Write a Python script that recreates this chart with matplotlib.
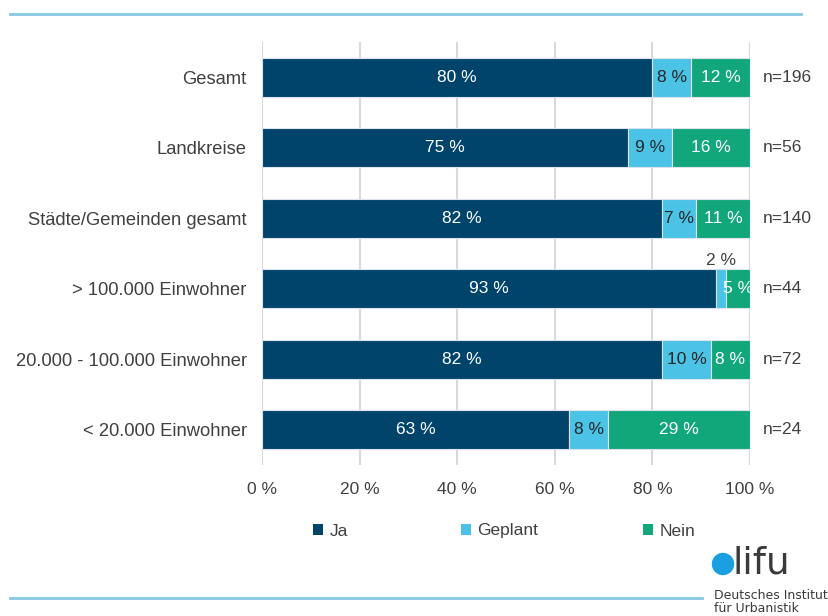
import matplotlib
matplotlib.use("Agg")
import matplotlib.pyplot as plt
from matplotlib.patches import Patch, Circle
from matplotlib.lines import Line2D

plt.rcParams['font.family'] = ['Liberation Sans', 'DejaVu Sans']

# Survey data
categories = ["Gesamt", "Landkreise", "Städte/Gemeinden gesamt",
              "> 100.000 Einwohner", "20.000 - 100.000 Einwohner",
              "< 20.000 Einwohner"]
ja = [80, 75, 82, 93, 82, 63]
geplant = [8, 9, 7, 2, 10, 8]
nein = [12, 16, 11, 5, 8, 29]
n_values = [196, 56, 140, 44, 72, 24]
series_names = ["Ja", "Geplant", "Nein"]
xticks = [0, 20, 40, 60, 80, 100]

colors = ["#00446c", "#4bc3e6", "#12a77a"]
label_colors = ["white", "#262626", "white"]
text_color = "#404040"

W, H = 829, 616
fig = plt.figure(figsize=(W / 100, H / 100), dpi=100)


def fx(px):
    return px / W


def fy(py):
    return 1 - py / H


ax = fig.add_axes([fx(262), fy(465), fx(750) - fx(262), fy(42) - fy(465)])

y = list(range(len(categories)))
left = [0] * len(categories)
bar_h = 0.555
for si, (name, vals) in enumerate(zip(series_names, [ja, geplant, nein])):
    bars = ax.barh(y, vals, left=left, height=bar_h, color=colors[si],
                   edgecolor="#dde3ea", linewidth=0.8, label=name, zorder=3)
    for i, (b, v) in enumerate(zip(bars, vals)):
        cx = left[i] + v / 2
        if v < 4:
            ax.annotate(f"{v} %", (cx, i - bar_h / 2), xytext=(0, 1),
                        textcoords="offset points", ha="center", va="bottom",
                        fontsize=12.5, color=text_color)
        else:
            ax.text(cx, i, f"{v} %", ha="center", va="center",
                    fontsize=12.5, color=label_colors[si], zorder=4)
    left = [l + v for l, v in zip(left, vals)]

for i, n in enumerate(n_values):
    ax.annotate(f"n={n}", (100, i), xytext=(9, 0), textcoords="offset points",
                ha="left", va="center", fontsize=12.5, color=text_color,
                annotation_clip=False)

ax.set_xlim(0, 100)
ax.set_ylim(len(categories) - 0.5, -0.5)
ax.set_yticks(y)
ax.set_yticklabels(categories, fontsize=13.2, color=text_color)
ax.set_xticks(xticks)
ax.set_xticklabels([f"{t} %" for t in xticks], fontsize=12.5, color=text_color)
ax.tick_params(axis="y", length=0, pad=11)
ax.tick_params(axis="x", length=0, pad=12)
ax.grid(axis="x", color="#d9d9d9", linewidth=1.5, zorder=0)
for s in ax.spines.values():
    s.set_visible(False)

# Legend entries placed individually
legend_x = [313, 461, 643]
for name, c, lx in zip(series_names, colors, legend_x):
    handle = [Patch(facecolor=c, edgecolor="none")]
    fig.legend(handle, [name], loc="center left",
               bbox_to_anchor=(fx(lx), fy(531)), frameon=False,
               fontsize=12.5, handlelength=0.6, handleheight=0.6,
               handletextpad=0.35, borderpad=0, borderaxespad=0,
               labelcolor=text_color)

# Decorative rules
line_color = "#86c8e2"
fig.add_artist(Line2D([fx(10), fx(801)], [fy(14), fy(14)], color=line_color,
                      linewidth=2, transform=fig.transFigure))
fig.add_artist(Line2D([fx(10), fx(702)], [fy(598), fy(598)], color=line_color,
                      linewidth=2, transform=fig.transFigure))

# Institute logo
logo_ax = fig.add_axes([0, 0, 1, 1], facecolor="none")
logo_ax.set_xlim(0, W)
logo_ax.set_ylim(H, 0)
logo_ax.axis("off")
logo_ax.add_patch(Circle((723, 564), 10.5, color="#1a9fe0"))
logo_ax.text(733, 573, "lifu", fontsize=27, color="#3a3a3a", ha="left",
             va="baseline", family="DejaVu Sans")
logo_ax.text(714, 599, "Deutsches Institut", fontsize=9, color="#3a3a3a",
             ha="left", va="baseline", family="DejaVu Sans")
logo_ax.text(714, 615.5, "für Urbanistik", fontsize=9, color="#3a3a3a",
             ha="left", va="bottom", family="DejaVu Sans")

fig.savefig("out.png", dpi=100)
